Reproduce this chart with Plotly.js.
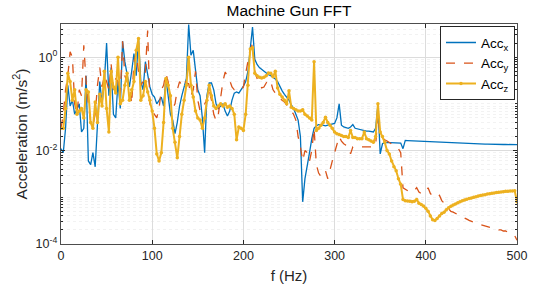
<!DOCTYPE html>
<html>
<head>
<meta charset="utf-8">
<script src="https://cdn.plot.ly/plotly-3.0.1.min.js"></script>
<style>html,body{margin:0;padding:0;background:#fff;}#chart{width:541px;height:290px;}</style>
</head>
<body>
<div id="chart"></div>
<script>
// Frequency bins (Hz)
const freq = [
0,2.5,5,7.5,10,12.5,15,17.5,20,22.5,
25,27.5,30,32.5,35,37.5,40,42.5,45,47.5,
50,52.5,55,57.5,60,62.5,65,67.5,70,72.5,
75,77.5,80,82.5,85,87.5,90,92.5,95,97.5,
100,102.5,105,107.5,110,112.5,115,117.5,120,122.5,
125,127.5,130,132.5,135,137.5,140,142.5,145,147.5,
150,152.5,155,157.5,160,162.5,165,167.5,170,172.5,
175,177.5,180,182.5,185,187.5,190,192.5,195,197.5,
200,202.5,205,207.5,210,212.5,215,217.5,220,222.5,
225,227.5,230,232.5,235,237.5,240,242.5,245,247.5,
250,252.5,255,257.5,260,262.5,265,267.5,270,272.5,
275,277.5,280,282.5,285,287.5,290,292.5,295,297.5,
300,302.5,305,307.5,310,312.5,315,317.5,320,322.5,
325,327.5,330,332.5,335,337.5,340,342.5,345,347.5,
350,352.5,355,357.5,360,362.5,365,367.5,370,372.5,
375,377.5,380,382.5,385,387.5,390,392.5,395,397.5,
400,402.5,405,407.5,410,412.5,415,417.5,420,422.5,
425,427.5,430,432.5,435,437.5,440,442.5,445,447.5,
450,452.5,455,457.5,460,462.5,465,467.5,470,472.5,
475,477.5,480,482.5,485,487.5,490,492.5,495,497.5,
500];

const accX = [
0.011,0.009,0.03,0.25,0.09,0.12,0.06,0.08,0.1,0.025,
0.03,0.4,0.006,0.005,0.009,0.0045,0.05,0.3,0.1,0.3,
2.0,0.15,0.6,0.06,0.05,0.3,0.08,2.2,0.8,0.4,
0.23,0.5,1.2,0.4,2.5,0.3,0.2,0.8,0.4,0.23,
0.16,0.14,0.1,0.12,0.14,0.09,0.35,0.15,0.06,0.045,
0.023,0.04,0.09,0.15,0.23,0.35,5.0,1.1,1.4,0.45,
0.2,0.15,0.05,0.009,0.15,0.28,0.28,0.2,0.1,0.08,
0.09,0.1,0.07,0.055,0.07,0.12,0.17,0.18,0.17,0.2,
0.24,0.3,0.5,1.5,4.4,0.9,0.7,0.6,0.55,0.5,
0.45,0.42,0.4,0.37,0.34,0.3,0.23,0.19,0.16,0.14,
0.12,0.095,0.08,0.06,0.045,0.02,0.0008,0.0025,0.0045,0.009,
0.018,0.03,0.034,0.036,0.036,0.035,0.034,0.035,0.036,0.037,
0.038,0.05,0.1,0.035,0.032,0.031,0.03,0.032,0.036,0.03,
0.029,0.028,0.027,0.027,0.026,0.026,0.025,0.025,0.03,0.095,
0.0085,0.014,0.015,0.015,0.015,0.015,0.015,0.015,0.015,0.0145,
0.011,0.0165,0.0164,0.0163,0.0162,0.0161,0.016,0.0159,0.0158,0.0157,
0.0156,0.0155,0.0154,0.0153,0.0152,0.0151,0.015,0.0149,0.0148,0.0147,
0.0146,0.0145,0.0144,0.0143,0.0142,0.0142,0.0141,0.0141,0.014,0.014,
0.0139,0.0139,0.0138,0.0138,0.0138,0.0137,0.0137,0.0137,0.0136,0.0136,
0.0136,0.0136,0.0135,0.0135,0.0135,0.0135,0.0135,0.0134,0.0134,0.0134,
0.0134];

const accY = [
0.03,0.06,0.2,0.4,1.3,1.0,0.1,0.06,0.2,0.15,
1.8,0.3,0.1,0.04,0.035,0.06,0.25,0.6,0.23,0.4,
0.3,0.2,0.7,0.2,0.35,0.3,0.15,2.2,0.4,0.3,
0.25,0.1,0.8,1.2,0.5,0.25,0.3,0.5,3.7,0.1,
0.07,0.06,0.05,0.08,0.2,0.25,0.45,0.3,0.12,0.08,
0.1,0.2,0.3,0.25,0.32,0.28,0.27,0.15,0.2,0.5,
0.12,0.07,0.09,0.1,0.12,0.2,0.12,0.06,0.044,0.06,
0.15,0.3,0.48,0.4,0.32,0.23,0.2,0.19,0.19,0.2,
0.23,0.45,0.8,1.5,1.9,0.5,0.35,0.3,0.22,0.23,
0.28,0.33,0.3,0.2,0.17,0.14,0.13,0.12,0.11,0.095,
0.08,0.07,0.06,0.045,0.02,0.012,0.006,0.01,0.009,0.006,
0.01,0.03,0.005,0.0033,0.0028,0.0035,0.0037,0.0025,0.0042,0.006,
0.009,0.014,0.02,0.016,0.014,0.013,0.0125,0.0085,0.012,0.012,
0.012,0.012,0.012,0.0118,0.0118,0.0118,0.0118,0.012,0.013,0.06,
0.02,0.018,0.017,0.016,0.015,0.014,0.013,0.012,0.011,0.009,
0.0016,0.0015,0.0014,0.0013,0.0013,0.0014,0.0016,0.0013,0.0012,0.0012,
0.0013,0.0016,0.0012,0.0011,0.0011,0.001,0.0011,0.00085,0.00075,0.00065,
0.00055,0.0005,0.00048,0.00045,0.00043,0.0004,0.00038,0.00036,0.00034,0.00032,
0.00031,0.0003,0.00028,0.00027,0.00026,0.00025,0.00025,0.00024,0.00023,0.00022,
0.00022,0.00021,0.0002,0.0002,0.00019,0.00019,0.00018,0.00017,0.00016,0.00015,
0.00012];

const accZ = [
0.03,0.03,0.08,0.45,0.3,0.12,0.2,0.06,0.07,0.08,
0.05,0.2,0.18,0.04,0.03,0.11,0.04,0.16,0.09,0.5,
0.08,0.025,0.5,0.23,0.17,1.0,0.1,0.12,0.25,0.45,
0.12,0.2,0.3,1.4,2.5,0.12,0.15,0.3,0.18,0.12,
0.07,0.03,0.0085,0.006,0.009,0.04,0.35,0.25,0.15,0.03,
0.015,0.007,0.02,0.06,0.12,0.25,1.0,0.25,0.14,0.07,
0.05,0.045,0.03,0.05,0.12,0.25,0.15,0.09,0.08,0.09,
0.1,0.09,0.1,0.085,0.09,0.08,0.06,0.017,0.032,0.03,
0.027,0.06,0.25,1.5,1.6,0.45,0.4,0.37,0.36,0.37,
0.4,0.46,0.45,0.38,0.5,0.22,0.16,0.14,0.12,0.1,
0.19,0.085,0.08,0.075,0.07,0.07,0.075,0.06,0.055,0.05,
0.045,0.8,0.027,0.03,0.035,0.04,0.052,0.04,0.035,0.03,
0.025,0.023,0.022,0.021,0.02,0.02,0.019,0.027,0.019,0.019,
0.018,0.018,0.018,0.025,0.018,0.017,0.016,0.015,0.02,0.1,
0.025,0.02,0.015,0.01,0.0085,0.006,0.0045,0.0037,0.0025,0.0019,
0.0009,0.00084,0.00083,0.00082,0.0008,0.00082,0.0009,0.00075,0.0007,0.00065,
0.00058,0.0005,0.0004,0.00033,0.00032,0.00035,0.0004,0.00045,0.00048,0.00054,
0.0006,0.00064,0.00068,0.00072,0.00076,0.0008,0.00084,0.00088,0.00091,0.00094,
0.00097,0.001,0.00103,0.00106,0.00109,0.00112,0.00114,0.00117,0.00119,0.00122,
0.00124,0.00126,0.00129,0.0013,0.00132,0.00134,0.00135,0.00136,0.00137,0.00138,
0.0008];

const seriesNames = ['Acc<sub>x</sub>', 'Acc<sub>y</sub>', 'Acc<sub>z</sub>'];
const xTicks = [0, 100, 200, 300, 400, 500];
const yTicks = [1e-4, 1e-2, 1];
const yTickText = ['10<sup>-4</sup>', '10<sup>-2</sup>', '10<sup>0</sup>'];

const FONT = 'Liberation Sans, Arial, Helvetica, sans-serif';
const TXT = '#262626';

const traces = [
  {x: freq, y: accX, name: seriesNames[0], type: 'scatter', mode: 'lines',
   line: {color: '#0072BD', width: 1.3}},
  {x: freq, y: accY, name: seriesNames[1], type: 'scatter', mode: 'lines',
   line: {color: '#D95319', width: 1.3, dash: 'dash'}},
  {x: freq, y: accZ, name: seriesNames[2], type: 'scatter', mode: 'lines+markers',
   line: {color: '#EDB120', width: 2}, marker: {color: '#EDB120', size: 3.5}}
];

const layout = {
  width: 541, height: 290,
  margin: {l: 61, r: 24, t: 24, b: 46},
  paper_bgcolor: '#ffffff', plot_bgcolor: '#ffffff',
  font: {family: FONT, color: TXT},
  showlegend: true,
  title: {text: 'Machine Gun FFT', font: {family: FONT, size: 15.5, color: '#000'},
          xref: 'paper', x: 0.5, xanchor: 'center', yref: 'container', y: 0.962, yanchor: 'middle'},
  xaxis: {
    range: [0, 500], tickmode: 'array', tickvals: xTicks,
    ticks: 'inside', ticklen: 4, tickcolor: TXT,
    showline: true, linecolor: '#4d4d4d', linewidth: 1.2, mirror: 'ticks',
    showgrid: true, gridcolor: '#dcdcdc', gridwidth: 1, zeroline: false,
    tickfont: {family: FONT, size: 12.5, color: TXT},
    title: {text: 'f (Hz)', font: {family: FONT, size: 15, color: TXT}, standoff: 8}
  },
  yaxis: {
    type: 'log', range: [-4, 0.71], tickmode: 'array', tickvals: yTicks, ticktext: yTickText,
    ticks: 'inside', ticklen: 4, tickcolor: TXT,
    showline: true, linecolor: '#4d4d4d', linewidth: 1.2, mirror: 'ticks',
    showgrid: true, gridcolor: '#dcdcdc', gridwidth: 1, zeroline: false,
    tickfont: {family: FONT, size: 12.5, color: TXT},
    minor: {dtick: 'D1', ticks: 'inside', ticklen: 2, tickcolor: TXT, showgrid: true,
            gridcolor: '#f2f2f2', griddash: 'dot'},
    title: {text: 'Acceleration (m/s<sup>2</sup>)', font: {family: FONT, size: 15.5, color: TXT}, standoff: 4}
  },
  legend: {x: 0.9956, y: 0.99, xanchor: 'right', yanchor: 'top',
           bgcolor: '#ffffff', bordercolor: TXT, borderwidth: 1,
           font: {family: FONT, size: 13.5, color: '#000'}, itemwidth: 30, tracegroupgap: 0}
};

Plotly.newPlot('chart', traces, layout, {displayModeBar: false, staticPlot: true});
</script>
</body>
</html>
